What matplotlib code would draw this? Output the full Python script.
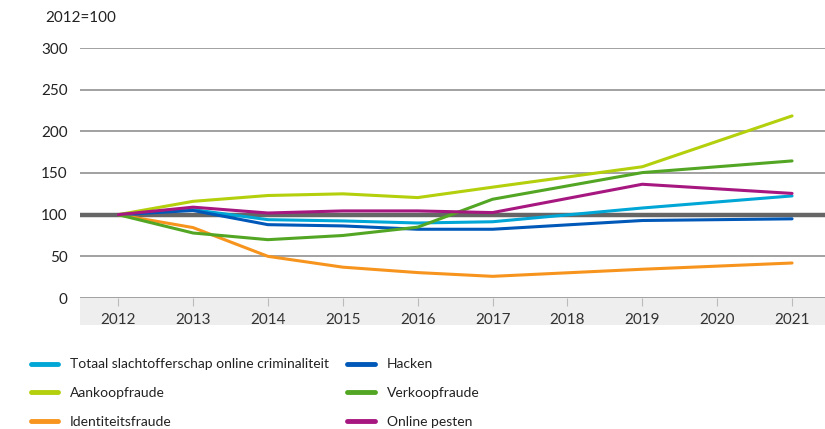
import matplotlib
matplotlib.use('Agg')
import matplotlib.pyplot as plt
from matplotlib.patches import Rectangle

plt.rcParams['font.family'] = ['Lato', 'DejaVu Sans']

# data (2012=100), 2018 and 2020 not measured
years = [2012, 2013, 2014, 2015, 2016, 2017, 2019, 2021]
totaal = [100, 106, 94, 92.5, 90, 91.5, 108, 122.5]
hacken = [100, 105, 88, 86.5, 82.5, 82.5, 93, 95]
aankoop = [100, 116, 123, 125, 120.5, 133, 157.5, 218.5]
verkoop = [100, 78, 70, 75, 85, 118.5, 150.5, 164.5]
identiteit = [100, 84.5, 50, 37, 30.5, 26, 34.5, 42]
pesten = [100, 109, 102, 104.5, 104.5, 102.5, 136.5, 125.5]

tick_years = list(range(2012, 2022))
yticks = [0, 50, 100, 150, 200, 250, 300]

series = [
    ('Totaal slachtofferschap online criminaliteit', totaal, '#00a6d6'),
    ('Aankoopfraude', aankoop, '#b4cf0c'),
    ('Identiteitsfraude', identiteit, '#f7941d'),
    ('Hacken', hacken, '#0058b8'),
    ('Verkoopfraude', verkoop, '#52a623'),
    ('Online pesten', pesten, '#a61780'),
]

fig = plt.figure(figsize=(8.25, 4.29), dpi=100)
ax = fig.add_axes([80/825., 1-298/429., 745/825., 250/429.])

for y in yticks:
    ax.axhline(y, color='#9a9a9a', lw=1.3, zorder=1)
ax.axhline(100, color='#666666', lw=3.2, zorder=2)

lines = {}
for name, vals, col in series:
    lines[name], = ax.plot(years, vals, color=col, lw=2.2, label=name, zorder=3,
                           solid_capstyle='round')

ax.set_xlim(2011.49, 2021.44)
ax.set_ylim(0, 300)
ax.set_xticks(tick_years)
ax.set_yticks(yticks)
ax.tick_params(axis='y', length=0, pad=9, labelsize=11, colors='#222222')
ax.tick_params(axis='x', length=6, color='#bbbbbb', direction='out',
               pad=5, labelsize=11, labelcolor='#333333')
for s in ax.spines.values():
    s.set_visible(False)

# grey band behind x tick labels
band = Rectangle((0, -27/250.*300), 1, 27/250.*300, facecolor='#eeeeee',
                 edgecolor='none', zorder=0.5, clip_on=False)
band.set_transform(matplotlib.transforms.blended_transform_factory(ax.transAxes, ax.transData))
ax.add_patch(band)

fig.text(45/825., 1-18/429., '2012=100', fontsize=11, color='#222222', va='center')

order = [series[i][0] for i in range(6)]
leg = fig.legend([lines[n] for n in order], order, ncol=2, loc='upper left',
                 bbox_to_anchor=(18/825., 1-346/429.), frameon=False, fontsize=10,
                 handlelength=2.0, handletextpad=0.86, columnspacing=1.3,
                 labelspacing=1.2)
for h in leg.legend_handles:
    h.set_linewidth(3.5)
for t in leg.get_texts():
    t.set_color('#222222')

fig.savefig('out.png', dpi=100)
